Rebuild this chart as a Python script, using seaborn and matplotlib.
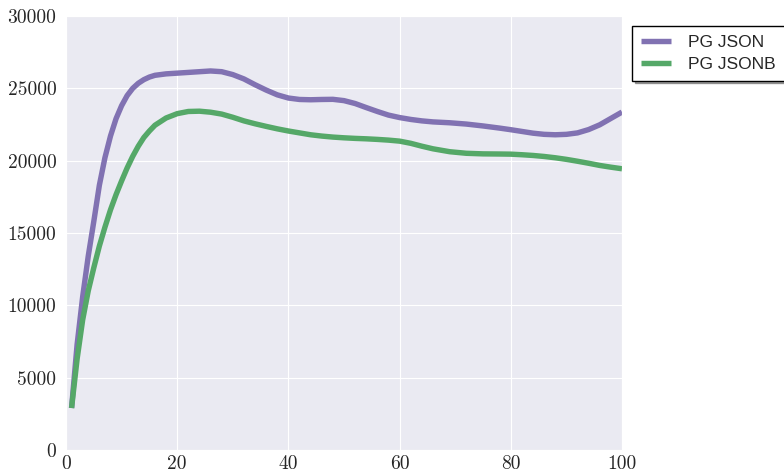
import numpy as np
import pandas as pd
import matplotlib
matplotlib.use("Agg")
import matplotlib.pyplot as plt
import seaborn as sns

# Throughput readings per client count
clients = [1, 2, 3, 4, 5, 6, 7, 8, 9, 10, 11, 12, 13, 14, 15, 16, 18, 20, 22,
           24, 26, 28, 30, 32, 34, 36, 38, 40, 42, 44, 46, 48, 50, 52, 54, 56,
           58, 60, 62, 64, 66, 69, 72, 75, 78, 80, 82, 84, 86, 88, 90, 92, 94,
           96, 98, 100]

pg_json = [2900, 7300, 10600, 13400, 15800, 18300, 20200, 21700, 22900, 23800,
           24500, 25000, 25350, 25600, 25780, 25900, 26000, 26050, 26100,
           26150, 26200, 26150, 25950, 25650, 25250, 24880, 24550, 24330,
           24230, 24210, 24230, 24240, 24150, 23950, 23670, 23400, 23150,
           22980, 22850, 22750, 22680, 22620, 22530, 22400, 22250, 22140,
           22020, 21900, 21820, 21790, 21820, 21920, 22150, 22480, 22920,
           23360]

pg_jsonb = [2900, 6300, 9000, 11000, 12600, 14100, 15400, 16600, 17650, 18600,
            19500, 20300, 21000, 21600, 22050, 22450, 22950, 23250, 23400,
            23420, 23350, 23220, 23000, 22750, 22550, 22370, 22200, 22050,
            21920, 21790, 21700, 21630, 21580, 21540, 21510, 21470, 21420,
            21350, 21200, 21000, 20820, 20620, 20510, 20470, 20460, 20450,
            20410, 20360, 20290, 20200, 20090, 19960, 19820, 19670, 19550,
            19440]

series_names = ["PG JSON", "PG JSONB"]
series_colors = ["#8172B2", "#55A868"]
x_ticks = [0, 20, 40, 60, 80, 100]
y_ticks = [0, 5000, 10000, 15000, 20000, 25000, 30000]

df = pd.DataFrame({
    "clients": clients * 2,
    "tps": pg_json + pg_jsonb,
    "series": [series_names[0]] * len(clients) + [series_names[1]] * len(clients),
})

sns.set_style("darkgrid", {"grid.linewidth": 0.8})
plt.rcParams["axes.formatter.use_mathtext"] = True

fig = plt.figure(figsize=(7.84, 4.73), dpi=100)
ax = fig.add_axes([66 / 784, 1 - 450 / 473, (622 - 66) / 784, (450 - 16) / 473])

sns.lineplot(data=df, x="clients", y="tps", hue="series",
             palette=series_colors, hue_order=series_names,
             linewidth=3.9, ax=ax, legend=True)
for line in ax.get_lines():
    line.set_solid_capstyle("butt")
    line.set_solid_joinstyle("round")

ax.grid(True, color="white", linewidth=0.8)
ax.set_xlim(0, 100)
ax.set_ylim(0, 30000)
ax.set_xticks(x_ticks)
ax.set_yticks(y_ticks)
ax.set_xticklabels([str(v) for v in x_ticks], fontfamily="cmr10", fontsize=14)
ax.set_yticklabels([str(v) for v in y_ticks], fontfamily="cmr10", fontsize=14)
ax.tick_params(axis="both", length=0)
ax.tick_params(axis="x", pad=4)
ax.tick_params(axis="y", pad=7)
ax.set_xlabel("")
ax.set_ylabel("")

handles, labels = ax.get_legend_handles_labels()
leg = ax.legend(handles, labels, loc="upper left", bbox_to_anchor=(1.018, 0.977),
                borderaxespad=0, fancybox=False, shadow=True, framealpha=1,
                edgecolor="black", facecolor="white",
                prop={"family": "Liberation Sans", "size": 12.5},
                handlelength=1.75, handletextpad=1.0, borderpad=0.5,
                labelspacing=0.4)
leg.get_frame().set_linewidth(1.0)
for line in leg.get_lines():
    line.set_linewidth(3.9)

fig.savefig("out.png", dpi=100)
